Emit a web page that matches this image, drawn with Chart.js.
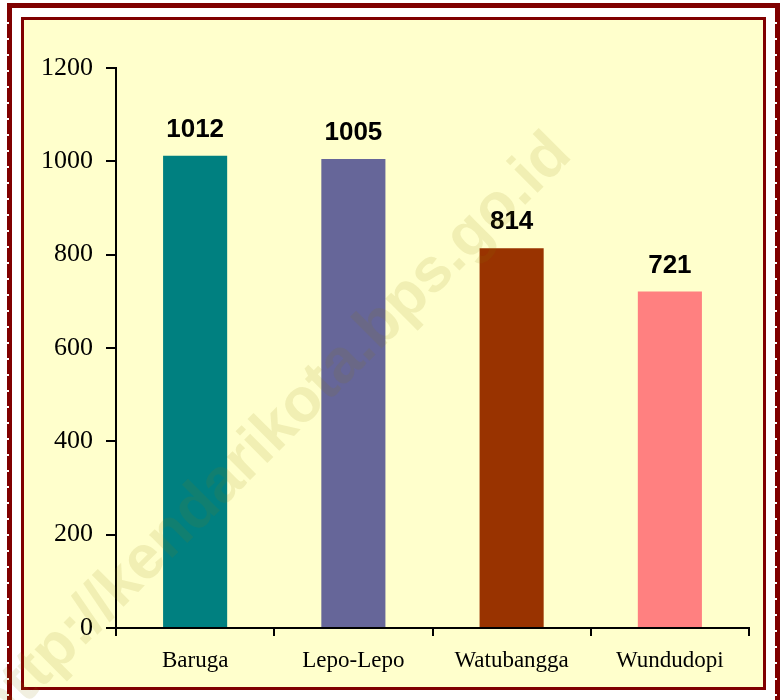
<!DOCTYPE html>
<html>
<head>
<meta charset="utf-8">
<script src="https://cdn.jsdelivr.net/npm/chart.js@4/dist/chart.umd.min.js"></script>
<style>
    html, body { margin: 0; padding: 0; background: #fff; }
    body { width: 783px; height: 700px; position: relative; overflow: hidden; }
    .frame-outer {
        position: absolute; left: 7px; top: 3px; width: 763px; height: 720px;
        border: 5px solid #800000;
    }
    .dots {
        position: absolute; width: 2px;
        background: repeating-linear-gradient(to bottom, transparent 0 14px, #fff 14px 16px);
    }
    .frame-inner {
        position: absolute; left: 21px; top: 17px; width: 739px; height: 667px;
        border: 3px solid #800000; background: #FFFFCC;
    }
    canvas { position: absolute; left: 0; top: 0; }
</style>
</head>
<body>
<div class="frame-outer"></div>
<div class="dots" style="left:7px; top:8px; height:700px;"></div>
<div class="dots" style="left:775px; top:8px; height:700px;"></div>
<div class="frame-inner"></div>
<canvas id="chartKelurahan" width="783" height="700"></canvas>

<script>
// ------------------------------ data ------------------------------
const categories = ['Baruga', 'Lepo-Lepo', 'Watubangga', 'Wundudopi'];
const values = [1012, 1005, 814, 721];
const barColors = ['#008080', '#666699', '#993300', '#FF8080'];
const yTicks = [0, 200, 400, 600, 800, 1000, 1200];

// ------------------------------ plugins ------------------------------
const valueLabels = {
    id: 'valueLabels',
    afterDatasetsDraw(chart) {
        const ctx = chart.ctx;
        const meta = chart.getDatasetMeta(0);
        ctx.save();
        ctx.font = 'bold 26px "Liberation Sans", Arial, sans-serif';
        ctx.fillStyle = '#000';
        ctx.textAlign = 'center';
        ctx.textBaseline = 'alphabetic';
        meta.data.forEach((bar, i) => {
            ctx.fillText(values[i], bar.x, bar.y - 19);
        });
        ctx.restore();
    }
};

// watermark over the whole picture
const watermark = {
    id: 'watermark',
    afterDraw(chart) {
        const ctx = chart.ctx;
        ctx.save();
        ctx.translate(274, 432);
        ctx.rotate(-Math.PI / 4);
        ctx.font = 'bold 62px "Liberation Sans", Arial, sans-serif';
        ctx.fillStyle = 'rgba(140, 125, 0, 0.12)';
        ctx.textAlign = 'center';
        ctx.textBaseline = 'middle';
        ctx.fillText('http://kendarikota.bps.go.id', 0, 0);
        ctx.restore();
    }
};

// ------------------------------ chart ------------------------------
const canvas = document.getElementById('chartKelurahan');

new Chart(canvas, {
    type: 'bar',
    data: {
        labels: categories,
        datasets: [{
            data: values,
            backgroundColor: barColors,
            borderWidth: 0,
            categoryPercentage: 1,
            barPercentage: 0.405
        }]
    },
    options: {
        responsive: false,
        animation: false,
        layout: { padding: { left: 0, right: 34, top: 68, bottom: 0 } },
        plugins: {
            legend: { display: false },
            tooltip: { enabled: false }
        },
        scales: {
            x: {
                afterFit(scale) { scale.height = 72; },
                grid: {
                    offset: true,
                    drawOnChartArea: false,
                    tickLength: 8,
                    color: '#000',
                    lineWidth: 2
                },
                border: { color: '#000', width: 2 },
                ticks: {
                    color: '#000',
                    padding: 11,
                    font: { family: '"Liberation Serif", "Times New Roman", serif', size: 23 }
                }
            },
            y: {
                min: 0,
                max: 1200,
                afterFit(scale) { scale.width = 116; },
                afterBuildTicks(scale) { scale.ticks = yTicks.map(v => ({ value: v })); },
                grid: {
                    drawOnChartArea: false,
                    tickLength: 10,
                    color: '#000',
                    lineWidth: 2
                },
                border: { color: '#000', width: 2 },
                ticks: {
                    color: '#000',
                    padding: 13,
                    callback: v => String(v),
                    font: { family: '"Liberation Serif", "Times New Roman", serif', size: 26 }
                }
            }
        }
    },
    plugins: [valueLabels, watermark]
});
</script>
</body>
</html>
